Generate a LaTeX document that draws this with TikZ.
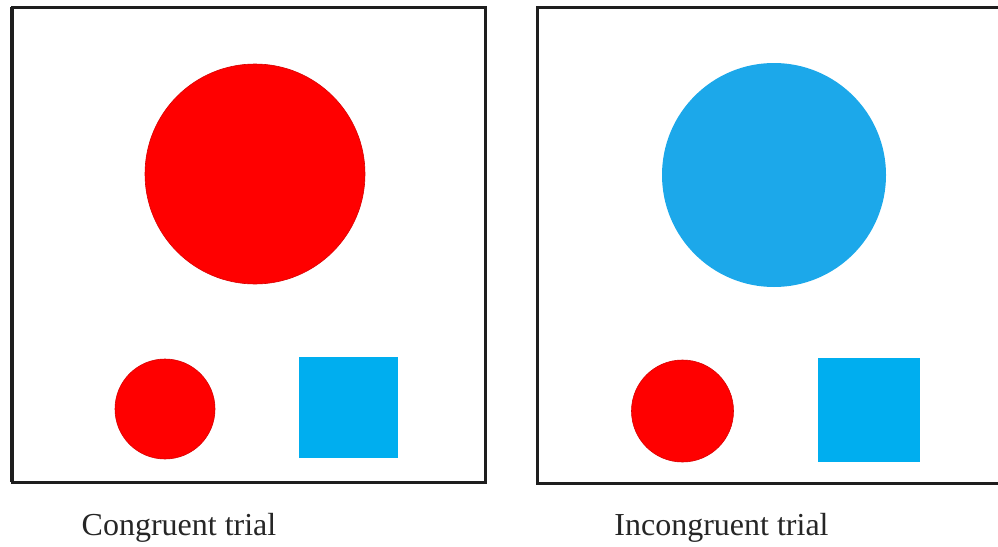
\documentclass[tikz,border=0pt]{standalone}
\usepackage{fontspec}
\setmainfont{Liberation Serif}
\definecolor{stimred}{HTML}{FF0000}
\definecolor{stimblue}{HTML}{00AEEF}
\definecolor{bigblue}{HTML}{1CA8EA}
\definecolor{framec}{HTML}{1E1E1E}
\tikzset{
  frame/.style={draw=framec, line width=3pt},
  redshape/.style={fill=stimred, draw=stimred!85!black, line width=0.6pt},
  blueshape/.style={fill=stimblue},
  caption/.style={font=\fontsize{32}{38}\selectfont, text=black!85, anchor=base, inner sep=0pt}
}
\begin{document}
\begin{tikzpicture}[x=1pt,y=-1pt]
\useasboundingbox (0,0) rectangle (998,546);
\fill[white] (0,0) rectangle (998,546);
% left panel
\draw[frame] (12,7) rectangle (485,482);
\draw[draw=framec, line width=2pt] (11,7) -- (11,482);
\fill[redshape] (255,174) circle [radius=110pt];
\fill[redshape] (165,409) circle [radius=50pt];
\fill[blueshape] (299,357) rectangle (398,458);
\node[caption] (capL) at (179,535) {Congruent trial};
% right panel
\draw[frame] (1000,7) -- (537,7) -- (537,483) -- (1000,483);
\fill[fill=bigblue] (774,175) circle [radius=112pt];
\fill[redshape] (682.5,411) circle [radius=51pt];
\fill[blueshape] (818,358) rectangle (920,462);
\node[caption] (capR) at (721.5,535) {Incongruent trial};
\end{tikzpicture}
\end{document}
